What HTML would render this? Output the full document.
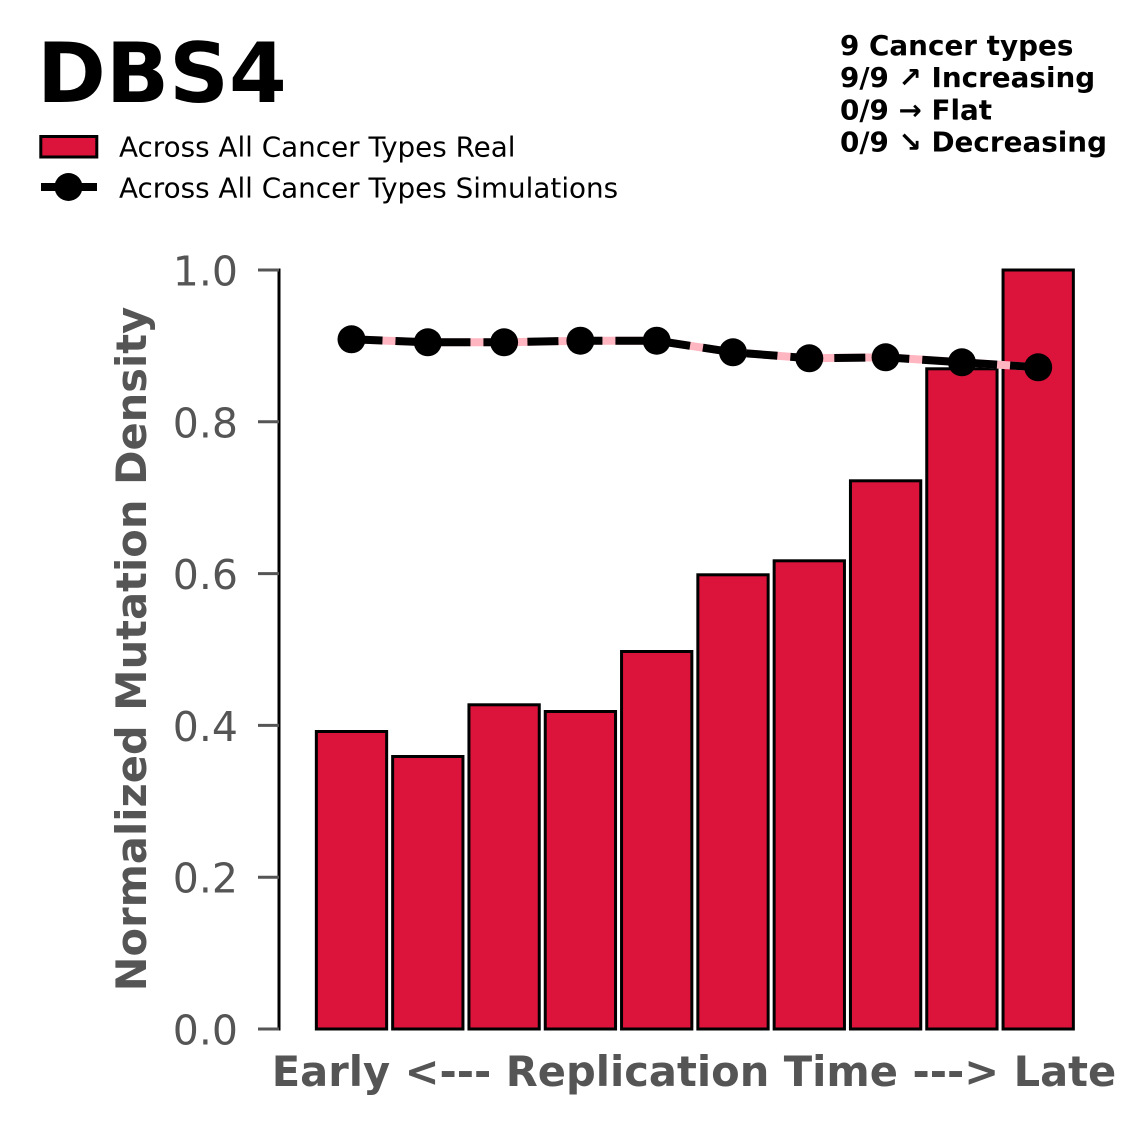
<!DOCTYPE html>
<html><head><meta charset="utf-8"><style>
html,body{margin:0;padding:0;background:#fff;}
svg{display:block;}
text{font-family:"DejaVu Sans","Liberation Sans",sans-serif;}
</style></head><body>
<svg width="1147" height="1125" viewBox="0 0 1147 1125" xmlns="http://www.w3.org/2000/svg">
<rect width="1147" height="1125" fill="#fff"/>
<!-- Title -->
<text x="37" y="102" font-size="83" font-weight="bold" fill="#000">DBS4</text>
<!-- Legend -->
<rect x="40.8" y="136.5" width="56" height="20.5" fill="#DC143C" stroke="#000" stroke-width="3"/>
<text x="119" y="156.7" font-size="27.8" fill="#000">Across All Cancer Types Real</text>
<line x1="41" y1="187" x2="97" y2="187" stroke="#000" stroke-width="8" stroke-dasharray="17 10 30"/>
<circle cx="68.5" cy="187" r="14" fill="#000"/>
<text x="119" y="197.7" font-size="27.8" fill="#000">Across All Cancer Types Simulations</text>
<!-- Top-right stats -->
<g font-size="27.8" font-weight="bold" fill="#000">
<text x="840" y="55">9 Cancer types</text>
<text x="840" y="87.2">9/9 ↗ Increasing</text>
<text x="840" y="119.5">0/9 → Flat</text>
<text x="840" y="151.7">0/9 ↘ Decreasing</text>
</g>
<!-- Bars -->
<g fill="#DC143C" stroke="#000" stroke-width="3">
<rect x="316.35" y="731.5" width="70.3" height="297.5"/>
<rect x="392.65" y="756.5" width="70.3" height="272.5"/>
<rect x="468.95" y="704.8" width="70.3" height="324.2"/>
<rect x="545.25" y="711.5" width="70.3" height="317.5"/>
<rect x="621.55" y="651.5" width="70.3" height="377.5"/>
<rect x="697.85" y="574.8" width="70.3" height="454.2"/>
<rect x="774.15" y="560.8" width="70.3" height="468.2"/>
<rect x="850.45" y="480.8" width="70.3" height="548.2"/>
<rect x="926.75" y="368.8" width="70.3" height="660.2"/>
<rect x="1003.05" y="270" width="70.3" height="759"/>
</g>
<!-- Lines -->
<polyline points="351.5,339.3 427.8,342.3 504.1,342.3 580.4,340.7 656.7,340.7 733,352.3 809.3,358.3 885.6,357.3 961.9,362.3 1038.2,367.3" fill="none" stroke="#FFB6C1" stroke-width="8"/>
<polyline points="351.5,339.3 427.8,342.3 504.1,342.3 580.4,340.7 656.7,340.7 733,352.3 809.3,358.3 885.6,357.3 961.9,362.3 1038.2,367.3" fill="none" stroke="#000" stroke-width="8" stroke-dasharray="31 13"/>
<g fill="#000">
<circle cx="351.5" cy="339.3" r="14"/>
<circle cx="427.8" cy="342.3" r="14"/>
<circle cx="504.1" cy="342.3" r="14"/>
<circle cx="580.4" cy="340.7" r="14"/>
<circle cx="656.7" cy="340.7" r="14"/>
<circle cx="733" cy="352.3" r="14"/>
<circle cx="809.3" cy="358.3" r="14"/>
<circle cx="885.6" cy="357.3" r="14"/>
<circle cx="961.9" cy="362.3" r="14"/>
<circle cx="1038.2" cy="367.3" r="14"/>
</g>
<!-- Axis -->
<line x1="279" y1="268.5" x2="279" y2="1030.5" stroke="#000" stroke-width="3"/>
<g stroke="#555" stroke-width="3">
<line x1="258" y1="1029" x2="279" y2="1029"/>
<line x1="258" y1="877.2" x2="279" y2="877.2"/>
<line x1="258" y1="725.4" x2="279" y2="725.4"/>
<line x1="258" y1="573.6" x2="279" y2="573.6"/>
<line x1="258" y1="421.8" x2="279" y2="421.8"/>
<line x1="258" y1="270" x2="279" y2="270"/>
</g>
<g font-size="41" fill="#555" text-anchor="end">
<text x="238" y="1044.5">0.0</text>
<text x="238" y="892.7">0.2</text>
<text x="238" y="740.9">0.4</text>
<text x="238" y="589.1">0.6</text>
<text x="238" y="437.3">0.8</text>
<text x="238" y="285.5">1.0</text>
</g>
<text transform="translate(146,649) rotate(-90)" font-size="41.6" font-weight="bold" fill="#555" text-anchor="middle">Normalized Mutation Density</text>
<text x="694" y="1086" font-size="41.6" font-weight="bold" fill="#555" text-anchor="middle">Early &lt;--- Replication Time ---&gt; Late</text>
</svg>
</body></html>
